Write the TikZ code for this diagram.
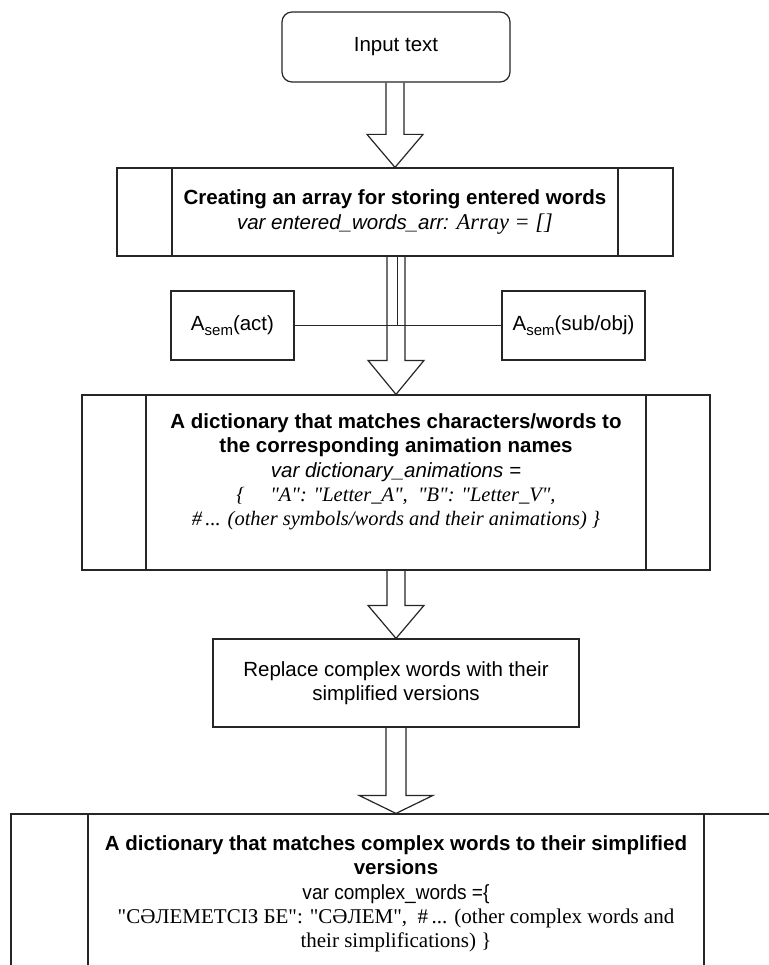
\documentclass[tikz,border=0pt]{standalone}
\usepackage{fontspec}
\setmainfont{Liberation Sans}
\newfontfamily\tnr{Liberation Serif}
\newfontfamily\narrowsans[FakeStretch=0.93]{Liberation Sans}
\usetikzlibrary{calc}
\newcommand\fs{\fontsize{20.5}{24.3}\selectfont}
\newcommand\subsem{\raisebox{-5pt}{\fontsize{15}{15}\selectfont sem}}
\tikzset{
  line/.style={draw=black!85, line width=1.2pt},
  box/.style={line, rectangle, align=center, inner sep=0pt, font=\fs},
  ppbox/.style={box, path picture={
      \draw[line] ([xshift=#1]path picture bounding box.north west) -- ([xshift=#1]path picture bounding box.south west)
                  ([xshift=-#1]path picture bounding box.north east) -- ([xshift=-#1]path picture bounding box.south east);}},
  txt/.style={align=center, inner sep=0pt, font=\fs},
}
% block arrow: from, to, head length, shaft half width, head half width
\newcommand\blockarrow[5]{%
  \draw[line] let \p1=(#1), \p2=(#2) in
    (\x2-#4pt,\y1) -- (\x2-#4pt,\y2+#3pt) -- (\x2-#5pt,\y2+#3pt) -- (\p2)
    -- (\x2+#5pt,\y2+#3pt) -- (\x2+#4pt,\y2+#3pt) -- (\x2+#4pt,\y1);}
\begin{document}
\begin{tikzpicture}[x=1pt,y=-1pt]
\useasboundingbox (0,0) rectangle (768,965);
\fill[white] (0,0) rectangle (768,965);

\node[box, rounded corners=10pt, minimum width=228pt, minimum height=70pt] (in) at (396,47) {Input text};

\node[ppbox=55pt, minimum width=556pt, minimum height=88pt] (b2) at (395,212)
  {\fontsize{20.5}{29}\selectfont\textbf{Creating an array for storing entered words}\\
   \textit{var entered\_words\_arr: {\tnr\fontsize{22.5}{29}\selectfont Array = []}}};

\node[box, minimum width=123pt, minimum height=69pt] (al) at (232.5,325.5) {A\subsem(act)};
\node[box, minimum width=143pt, minimum height=69pt] (ar) at (573.5,325.5) {A\subsem(sub/obj)};

\node[ppbox=64pt, minimum width=628pt, minimum height=175pt] (b3) at (396,482.5) {};
\node[txt] (b3t) at (396,472)
  {\textbf{A dictionary that matches characters/words to}\\
   \textbf{the corresponding animation names}\\
   \textit{var dictionary\_animations =}\\
   {\tnr\itshape \{\quad\ "A": "Letter\_A",\ \ "B": "Letter\_V",}\\
   {\tnr\itshape \#\,... (other symbols/words and their animations) \}}};

\node[box, minimum width=366pt, minimum height=88pt] (b4) at (396,683)
  {Replace complex words with their\\simplified versions};

\node[ppbox=77pt, minimum width=770pt, minimum height=186pt] (b5) at (396,907) {};
\node[txt] (b5t) at (396,894)
  {\fontsize{20.5}{25}\selectfont
   \textbf{A dictionary that matches complex words to their simplified}\\
   \textbf{versions}\\
   {\narrowsans var complex\_words =\{}\\
   {\tnr\fontsize{21}{25}\selectfont "СӘЛЕМЕТСІЗ БЕ": "СӘЛЕМ",\ \ \#\,... (other complex words and}\\
   {\tnr\fontsize{21}{25}\selectfont their simplifications) \}}};

% connectors
\blockarrow{in.south}{b2.north}{33}{9}{28}
\coordinate (j) at (397,325.5);
\draw[line, line width=1pt] (b2.south -| j) -- (j);
\draw[line, line width=1pt] (al.east) -- (ar.west);
\blockarrow{b2.south}{b3.north}{34}{9}{28}
\blockarrow{b3.south}{b4.north}{33}{9}{28}
\blockarrow{b4.south}{b5.north}{18}{10}{37}
\end{tikzpicture}
\end{document}
